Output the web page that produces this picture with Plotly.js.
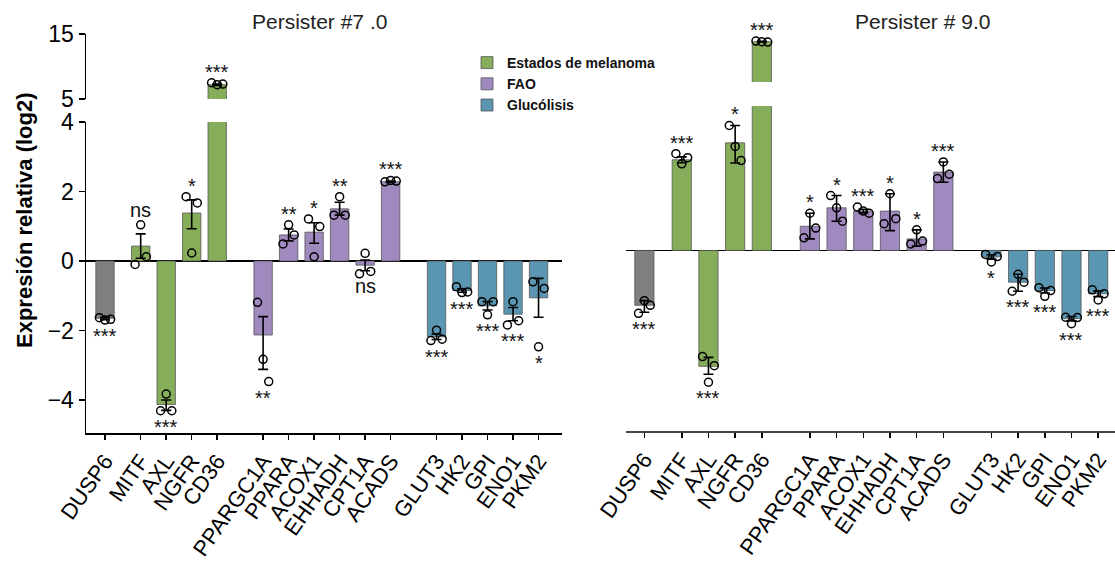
<!DOCTYPE html>
<html><head><meta charset="utf-8">
<script src="https://cdn.plot.ly/plotly-3.0.1.min.js"></script>
<style>html,body{margin:0;padding:0;background:#fff}#chart{width:1115px;height:568px}</style>
</head><body><div id="chart"></div>
<script>
// ---------- DATA ----------
const genes = ['DUSP6','MITF','AXL','NGFR','CD36','PPARGC1A','PPARA','ACOX1','EHHADH','CPT1A','ACADS','GLUT3','HK2','GPI','ENO1','PKM2'];
const geneGroup = [0,1,1,1,1,2,2,2,2,2,2,3,3,3,3,3];
const groupNames = ['Control','Estados de melanoma','FAO','Glucólisis'];

// Persister #7.0
const p7Mean    = [-1.65, 0.43, -4.13, 1.38, 7.2, -2.13, 0.75, 0.83, 1.50, -0.12, 2.28, -2.18, -0.85, -1.29, -1.53, -1.06];
const p7ErrUp   = [0.03, 0.35, 0.13, 0.38, 0.10, 0.53, 0.17, 0.27, 0.19, 0.15, 0.02, 0.08, 0.05, 0.12, 0.19, 0.56];
const p7ErrDown = [0.04, 0.35, 0.17, 0.45, 0.10, 0.99, 0.17, 0.32, 0.18, 0.16, 0.02, 0.08, 0.05, 0.12, 0.19, 0.56];
const p7Rep1    = [-1.63, -0.10, -4.31, 1.85, 7.5, -1.19, 0.49, 1.21, 1.32, -0.37, 2.28, -2.29, -0.74, -1.17, -1.84, -0.60];
const p7Rep2    = [-1.70, 1.04, -3.83, 0.23, 7.2, -2.83, 1.04, 0.12, 1.85, 0.22, 2.32, -1.99, -0.91, -1.55, -1.17, -2.47];
const p7Rep3    = [-1.68, 0.12, -4.31, 1.67, 7.3, -3.47, 0.75, 0.99, 1.32, -0.30, 2.30, -2.25, -0.89, -1.17, -1.72, -0.79];
const p7Sig     = ['***','ns','***','*','***','**','**','*','**','ns','***','***','***','***','***','*'];

// Persister #9.0
const p9Mean    = [-1.52, 2.51, -3.21, 2.98, 11.2, 0.67, 1.18, 1.09, 1.09, 0.32, 2.17, -0.18, -0.88, -1.11, -1.89, -1.20];
const p9ErrUp   = [0.13, 0.08, 0.25, 0.48, 0.05, 0.36, 0.34, 0.05, 0.48, 0.25, 0.28, 0.06, 0.22, 0.07, 0.06, 0.08];
const p9ErrDown = [0.19, 0.08, 0.22, 0.56, 0.05, 0.35, 0.37, 0.05, 0.54, 0.20, 0.28, 0.06, 0.25, 0.07, 0.06, 0.08];
const p9Rep1    = [-1.74, 2.68, -2.94, 3.46, 11.3, 0.35, 1.52, 1.20, 0.74, 0.18, 1.99, -0.11, -1.13, -1.03, -1.85, -1.09];
const p9Rep2    = [-1.39, 2.40, -3.65, 2.88, 11.2, 1.03, 1.18, 1.09, 1.57, 0.57, 2.45, -0.32, -0.66, -1.27, -2.03, -1.37];
const p9Rep3    = [-1.52, 2.57, -3.19, 2.49, 11.15, 0.62, 0.81, 1.03, 0.88, 0.26, 2.11, -0.17, -0.88, -1.11, -1.86, -1.20];
const p9Sig     = ['***','***','***','*','***','*','*','***','*','*','***','*','***','***','***','***'];

const lowerTicks = [-4,-2,0,2,4];
const upperTicks = [5,15];

// ---------- STYLE / LAYOUT ----------
const W = 1115, H = 568;
const px = v => v / W, py = v => 1 - v / H;
const groupColors = ['#7f7f7f','#86ad5a','#a089be','#5a96b1'];
const FONT = 'Liberation Sans, Arial, Helvetica, sans-serif';

// category positions with extra gaps between groups
const groupGap = [0, 0.4, 0.8, 0.8];
const pos = [];
genes.forEach((g, i) => {
  if (i === 0) { pos.push(0); return; }
  let p = pos[i-1] + 1;
  if (geneGroup[i] !== geneGroup[i-1]) p += groupGap[geneGroup[i]];
  pos.push(p);
});
const repOffsets = [-0.22, 0, 0.22];

const traces = [];
const annotations = [];

function buildPanel(mean, up, down, reps, sig, xa, yLow, yUp, lowTop, legend) {
  [yLow, yUp].forEach((ya, seg) => {
    for (let g = 0; g < groupNames.length; g++) {
      const idx = genes.map((_, i) => i).filter(i => geneGroup[i] === g);
      if (seg === 1 && g !== 1) continue;
      traces.push({
        type: 'bar', xaxis: xa, yaxis: ya,
        x: idx.map(i => pos[i]), y: idx.map(i => mean[i]),
        width: 0.72, name: groupNames[g],
        marker: {color: groupColors[g], line: {color: '#555', width: 0.8}},
        error_y: {type: 'data', symmetric: false, array: idx.map(i => up[i]), arrayminus: idx.map(i => down[i]),
                  color: '#000', thickness: 1.6, width: 5},
        showlegend: legend && seg === 0 && g > 0,
        hoverinfo: 'skip'
      });
    }
    const sx = [], sy = [];
    reps.forEach((r, k) => r.forEach((v, i) => { sx.push(pos[i] + repOffsets[k]); sy.push(v); }));
    traces.push({
      type: 'scatter', mode: 'markers', xaxis: xa, yaxis: ya, x: sx, y: sy,
      marker: {symbol: 'circle-open', size: 8, color: '#000', line: {width: 1.5}},
      showlegend: false, hoverinfo: 'skip'
    });
  });
  genes.forEach((g, i) => {
    const vals = reps.map(r => r[i]);
    const positive = mean[i] >= 0;
    const ext = positive ? Math.max(...vals, mean[i] + up[i]) : Math.min(...vals, mean[i] - down[i]);
    const isNs = sig[i] === 'ns';
    const shift = positive ? (isNs ? 15 : 11) : (isNs ? -12 : -16);
    annotations.push({
      x: pos[i], y: ext, xref: xa, yref: mean[i] > lowTop ? yUp : yLow,
      text: sig[i], showarrow: false, yanchor: 'middle', yshift: shift,
      font: {family: FONT, size: 20, color: '#111'}
    });
  });
}

buildPanel(p7Mean, p7ErrUp, p7ErrDown, [p7Rep1, p7Rep2, p7Rep3], p7Sig, 'x', 'y', 'y2', 4, true);
buildPanel(p9Mean, p9ErrUp, p9ErrDown, [p9Rep1, p9Rep2, p9Rep3], p9Sig, 'x2', 'y3', 'y4', 4, false);

annotations.push({text: 'Persister #7 .0', x: px(319.5), y: py(22), xref: 'paper', yref: 'paper',
  showarrow: false, xanchor: 'center', yanchor: 'middle', font: {family: FONT, size: 21, color: '#222'}});
annotations.push({text: 'Persister # 9.0', x: px(922.5), y: py(22), xref: 'paper', yref: 'paper',
  showarrow: false, xanchor: 'center', yanchor: 'middle', font: {family: FONT, size: 21, color: '#222'}});
annotations.push({text: '<b>Expresión relativa (log2)</b>', x: px(25), y: py(220), xref: 'paper', yref: 'paper',
  showarrow: false, textangle: -90, xanchor: 'center', yanchor: 'middle', font: {family: FONT, size: 22, color: '#000'}});

const xCommon = {
  tickvals: pos, ticktext: genes, tickangle: -55, ticks: 'outside', ticklen: 5, tickwidth: 1.5, tickcolor: '#000',
  showline: true, linewidth: 1.5, showgrid: false, zeroline: false,
  tickfont: {family: FONT, size: 22, color: '#000'}
};
const yLeft = {
  ticks: 'outside', ticklen: 6, tickwidth: 1.5, tickcolor: '#000', showline: true, linecolor: '#000', linewidth: 1.5,
  showgrid: false, tickfont: {family: FONT, size: 23, color: '#000'}
};
const yRight = {showline: false, showticklabels: false, ticks: '', showgrid: false};

const layout = {
  width: W, height: H, margin: {l: 0, r: 0, t: 0, b: 0},
  paper_bgcolor: '#fff', plot_bgcolor: 'rgba(0,0,0,0)', barmode: 'overlay',
  font: {family: FONT, color: '#000'},
  xaxis: Object.assign({}, xCommon, {domain: [px(86), px(562)], range: [-0.745, 17.92], anchor: 'y', linecolor: '#000'}),
  yaxis: Object.assign({}, yLeft, {domain: [py(433), py(122)], range: [-4.95, 4], tickvals: lowerTicks, anchor: 'x',
          zeroline: true, zerolinecolor: '#000', zerolinewidth: 1.5}),
  yaxis2: Object.assign({}, yLeft, {domain: [py(99), py(34)], range: [5, 15], tickvals: upperTicks, anchor: 'x', zeroline: false}),
  xaxis2: Object.assign({}, xCommon, {domain: [px(625.7), 1], range: [-0.7, 17.63], anchor: 'y3', linecolor: '#444', linewidth: 2}),
  yaxis3: Object.assign({}, yRight, {domain: [py(431), py(106)], range: [-5, 4], anchor: 'x2',
          zeroline: true, zerolinecolor: '#000', zerolinewidth: 1.5}),
  yaxis4: Object.assign({}, yRight, {domain: [py(82), py(17)], range: [5, 15], anchor: 'x2', zeroline: false}),
  legend: {x: px(467), y: py(47), xanchor: 'left', yanchor: 'top', bgcolor: 'rgba(0,0,0,0)',
           font: {family: FONT, size: 14, color: '#111', weight: 700}, traceorder: 'normal'},
  annotations: annotations
};

Plotly.newPlot('chart', traces, layout, {displayModeBar: false, staticPlot: true});
</script>
</body></html>
